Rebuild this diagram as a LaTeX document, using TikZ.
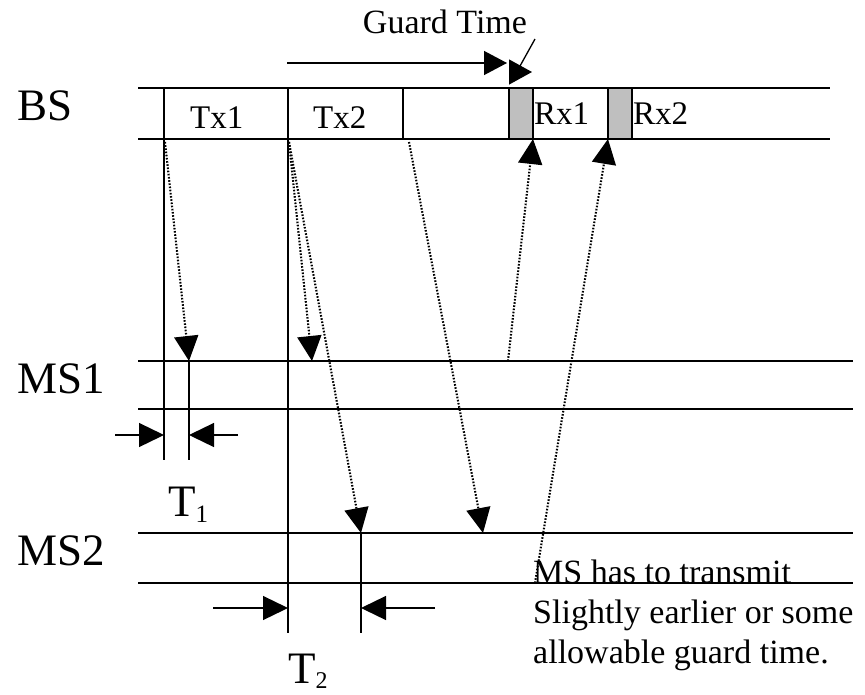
\documentclass[tikz,border=0pt]{standalone}
\usepackage{fontspec}
\setmainfont{Liberation Serif}
\usetikzlibrary{arrows.meta}
\begin{document}
\begin{tikzpicture}[x=1pt,y=-1pt,
  ln/.style={line width=1.3pt},
  dots/.style={line width=2.1pt, dash pattern=on 1.6pt off 1.6pt, black},
  tip/.style={-{Triangle[length=25pt,width=24pt]}},
  big/.style={font=\fontsize{45}{54}\selectfont, inner sep=0pt, anchor=base west},
  mid/.style={font=\fontsize{33}{40}\selectfont, inner sep=0pt, anchor=base west},
  note/.style={font=\fontsize{34}{40}\selectfont, inner sep=0pt, anchor=base west},
  guard/.style={fill=black!25, draw=black, line width=1.3pt}]
\useasboundingbox (0,0) rectangle (865,694);
% guard boxes
\draw[guard] (509,88) rectangle (533,139);
\draw[guard] (608,88) rectangle (632,139);
% horizontal lines
\draw[ln] (138,88) -- (830,88);
\draw[ln] (138,139) -- (830,139);
\draw[ln] (138,361) -- (853,361);
\draw[ln] (138,409) -- (853,409);
\draw[ln] (138,533) -- (853,533);
\draw[ln] (138,583) -- (853,583);
% vertical lines
\draw[ln] (164,88) -- (164,460);
\draw[ln] (189,361) -- (189,460);
\draw[ln] (288,88) -- (288,633);
\draw[ln] (361,533) -- (361,633);
\draw[ln] (403,88) -- (403,139);
% named points
\coordinate (tx1s) at (165,142);
\coordinate (tx2s) at (289,142);
\coordinate (tx2e) at (409,142);
\coordinate (ms1a) at (189,361);
\coordinate (ms1b) at (312,361);
\coordinate (ms2a) at (361,533);
\coordinate (ms2b) at (483,533);
\coordinate (ms1u) at (508,361);
\coordinate (ms2u) at (535,583);
\coordinate (rx1) at (533,139);
\coordinate (rx2) at (608,139);
% dotted propagation arrows
\draw[dots, tip] (tx1s) -- (ms1a);
\draw[dots, tip] (tx2s) -- (ms1b);
\draw[dots, tip] (tx2s) -- (ms2a);
\draw[dots, tip] (tx2e) -- (ms2b);
\draw[dots, tip] (ms1u) -- (rx1);
\draw[dots, tip] (ms2u) -- (rx2);
% guard time arrows
\coordinate (gs) at (287,63);
\coordinate (ge) at (507,63);
\draw[ln, -{Triangle[length=23pt,width=24pt]}] (gs) -- (ge);
\coordinate (g2s) at (509,72);
\coordinate (g2e) at (532,72);
\draw[ln, -{Triangle[length=23pt,width=25pt]}] (g2s) -- (g2e);
\coordinate (l1) at (535,39);
\coordinate (l2) at (520,66);
\draw[ln] (l1) -- (l2);
% T1 markers
\coordinate (t1l) at (115,435);
\coordinate (t1lt) at (164,435);
\coordinate (t1r) at (238,435);
\coordinate (t1rt) at (189,435);
\draw[ln, tip] (t1l) -- (t1lt);
\draw[ln, tip] (t1r) -- (t1rt);
% T2 markers
\coordinate (t2l) at (213,608);
\coordinate (t2lt) at (288,608);
\coordinate (t2r) at (435,608);
\coordinate (t2rt) at (361,608);
\draw[ln, tip] (t2l) -- (t2lt);
\draw[ln, tip] (t2r) -- (t2rt);
% labels
\node[big] (bs) at (17,120) {BS};
\node[big] (ms1) at (17,393) {MS1};
\node[big] (ms2) at (17,565) {MS2};
\node[mid] (tx1) at (190,128) {Tx1};
\node[mid] (tx2) at (313,128) {Tx2};
\node[mid] (rxa) at (534,124) {Rx1};
\node[mid] (rxb) at (633,124) {Rx2};
\node[note, anchor=base] (gt) at (445,33) {Guard Time};
\node[big] (t1) at (168,516) {T\raisebox{-6pt}{\fontsize{25}{25}\selectfont 1}};
\node[big] (t2) at (288,683) {T\raisebox{-5pt}{\fontsize{24}{24}\selectfont 2}};
\node[note] (n1) at (533,583) {MS has to transmit};
\node[note] (n2) at (533,623) {Slightly earlier or some};
\node[note] (n3) at (533,663) {allowable guard time.};
\end{tikzpicture}
\end{document}
